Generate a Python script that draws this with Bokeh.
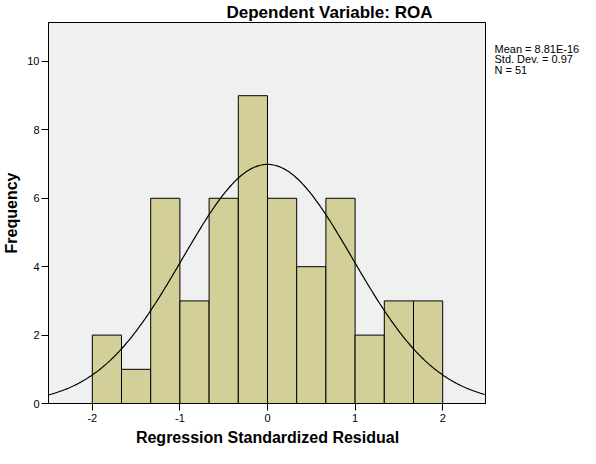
import numpy as np
from bokeh.plotting import figure
from bokeh.models import Range1d, Title
from bokeh.layouts import row
from bokeh.core.properties import value
from bokeh.embed import file_html
from bokeh.resources import INLINE

# ---- data ----
title_text = "Dependent Variable: ROA"
x_label = "Regression Standardized Residual"
y_label = "Frequency"
bin_edges = [-2.0, -5/3, -4/3, -1.0, -2/3, -1/3, 0.0, 1/3, 2/3, 1.0, 4/3, 5/3, 2.0]
counts = [2, 1, 6, 3, 6, 9, 6, 4, 6, 2, 3, 3]
mean_val = 8.81e-16
std_dev = 0.97
n_obs = 51
stats_lines = ["Mean = 8.81E-16", "Std. Dev. = 0.97", "N = 51"]
x_ticks = [-2, -1, 0, 1, 2]
y_ticks = [0, 2, 4, 6, 8, 10]

FONT = "Liberation Sans"
X0, X1 = -2.5, 2.5
Y0, Y1 = 0.0, 11.14

L, R, B = 42, 486, 403
W, H = 580, 448

p = figure(width=R, height=H, output_backend="svg", toolbar_location=None,
           x_range=Range1d(X0, X1), y_range=Range1d(Y0, Y1),
           min_border_left=L, min_border_right=0,
           min_border_top=0, min_border_bottom=H - B)
p.add_layout(Title(text=title_text, text_font=FONT, text_font_size="17px",
                   text_font_style="bold", text_color="black", align="left",
                   offset=178, standoff=1), "above")
p.background_fill_color = "#F0F0F0"
p.border_fill_color = "white"
p.outline_line_color = "black"
p.outline_line_width = 1
p.xgrid.visible = False
p.ygrid.visible = False

lefts = bin_edges[:-1]
rights = bin_edges[1:]
p.quad(left=lefts, right=rights, bottom=0, top=counts,
       fill_color="#D3CF98", line_color="black", line_width=1)

bw = bin_edges[1] - bin_edges[0]
xs = np.linspace(X0, X1, 400)
ys = n_obs * bw * np.exp(-0.5 * ((xs - mean_val) / std_dev) ** 2) / (std_dev * np.sqrt(2 * np.pi))
p.line(xs, ys, line_color="black", line_width=1.2)

for ax in (p.xaxis[0], p.yaxis[0]):
    ax.major_tick_out = 7
    ax.major_tick_in = 0
    ax.minor_tick_out = 0
    ax.minor_tick_in = 0
    ax.axis_line_color = "black"
    ax.major_tick_line_color = "black"
    ax.major_label_text_font = FONT
    ax.major_label_text_font_size = "11px"
    ax.major_label_text_color = "black"
    ax.axis_label_text_font = FONT
    ax.axis_label_text_font_size = "16px"
    ax.axis_label_text_font_style = "bold"
    ax.axis_label_text_color = "black"

p.xaxis.ticker = x_ticks
p.yaxis.ticker = y_ticks
p.xaxis.major_label_overrides = {t: str(t) for t in x_ticks}
p.xaxis.axis_label = x_label
p.yaxis.axis_label = y_label
p.xaxis.major_label_standoff = 3
p.xaxis.axis_label_standoff = 4
p.yaxis.major_label_standoff = 2
p.yaxis.axis_label_standoff = 4

# side panel with the summary statistics
SW = W - R
p2 = figure(width=SW, height=H, output_backend="svg", toolbar_location=None,
            x_range=Range1d(0, SW), y_range=Range1d(0, H),
            min_border=0, outline_line_color=None)
p2.axis.visible = False
p2.grid.visible = False
p2.background_fill_color = "white"
p2.border_fill_color = "white"
stat_x = [8] * len(stats_lines)
stat_y = [H - (31 + i * 12.5) for i in range(len(stats_lines))]
p2.text(x=stat_x, y=stat_y, text=stats_lines, text_font=value(FONT),
        text_font_size="11px", text_align="left", text_baseline="middle",
        text_color="black")

layout = row(p, p2, spacing=0)
open("out.html", "w").write(file_html(layout, INLINE))
